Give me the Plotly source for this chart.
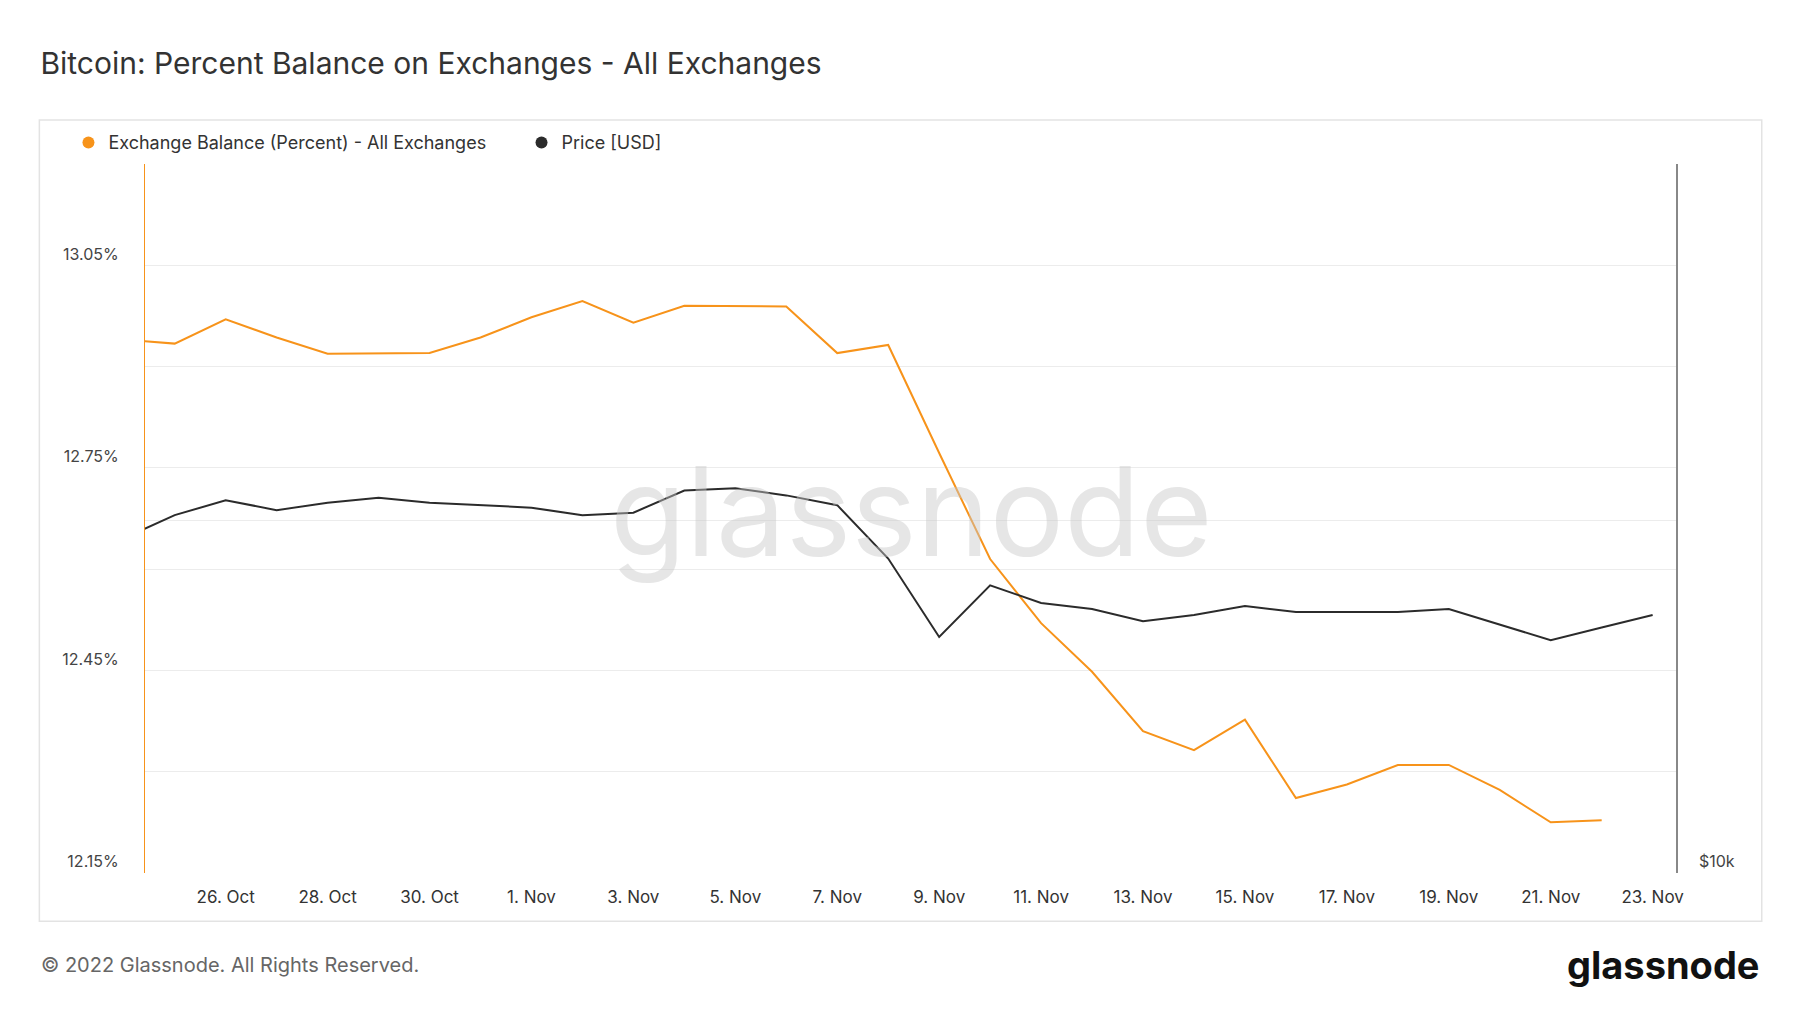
import pandas as pd
import plotly.graph_objects as go

dates = pd.date_range("2022-10-24", "2022-11-23", freq="D")

# percent of BTC supply held on exchanges (one value per day, last day missing)
balance_pct = [12.940, 12.934, 12.970, 12.943, 12.919, 12.919, 12.920, 12.943,
               12.973, 12.997, 12.965, 12.990, 12.990, 12.989, 12.920, 12.932,
               12.772, 12.615, 12.520, 12.448, 12.360, 12.332, 12.377, 12.261,
               12.281, 12.310, 12.310, 12.273, 12.225, 12.228, None]

price_usd = [19300, 20200, 20800, 20400, 20700, 20900, 20700, 20600, 20500,
             20200, 20300, 21200, 21300, 21000, 20600, 18550, 15900, 17600,
             17000, 16800, 16400, 16600, 16900, 16700, 16700, 16700, 16800,
             16300, 15800, 16200, 16600]

pct_ticks = [12.15, 12.30, 12.45, 12.60, 12.75, 12.90, 13.05]
pct_labels = ["12.15%", "", "12.45%", "", "12.75%", "", "13.05%"]

ORANGE = "#f7931a"
BLACK = "#2b2b2b"

fig = go.Figure()
fig.add_trace(go.Scatter(x=dates, y=balance_pct, mode="lines",
                         line=dict(color=ORANGE, width=2), showlegend=False))
fig.add_trace(go.Scatter(x=dates, y=price_usd, mode="lines", yaxis="y2",
                         line=dict(color=BLACK, width=2), showlegend=False))
# legend entries drawn as dots, like the original
fig.add_trace(go.Scatter(x=[None], y=[None], mode="markers",
                         marker=dict(color=ORANGE, size=12),
                         name="Exchange Balance (Percent) - All Exchanges      "))
fig.add_trace(go.Scatter(x=[None], y=[None], mode="markers",
                         marker=dict(color=BLACK, size=12), name="Price [USD]"))

fig.update_layout(
    width=1800, height=1013,
    paper_bgcolor="white", plot_bgcolor="white",
    margin=dict(l=137, r=132, t=156, b=148),
    font=dict(family="Inter, Noto Sans, sans-serif", color="#444"),
    title=dict(text="Bitcoin: Percent Balance on Exchanges - All Exchanges",
               x=0.018, xanchor="left", y=0.945, yanchor="middle",
               font=dict(size=30, color="#333")),
    showlegend=True,
    legend=dict(orientation="h", x=-0.05, y=1.03, xanchor="left", yanchor="middle",
                font=dict(size=18, color="#333"), itemwidth=30,
                bgcolor="rgba(0,0,0,0)"),
    xaxis=dict(range=["2022-10-24 10:00", "2022-11-23 11:00"],
               tick0="2022-10-26", dtick=2 * 86400000, tickformat="%-d. %b",
               showgrid=False, showline=False, ticks="", ticklabelstandoff=12,
               tickfont=dict(size=17, color="#333")),
    yaxis=dict(range=[12.15, 13.2], tickvals=pct_ticks, ticktext=pct_labels,
               showgrid=True, gridcolor="#ececec", zeroline=False,
               showline=True, linecolor=ORANGE, linewidth=1,
               ticklabelposition="outside top", ticklabelstandoff=22, ticks="",
               tickfont=dict(size=16, color="#444")),
    yaxis2=dict(overlaying="y", side="right", type="log",
                range=[4, 4.605], tickvals=[10000, 20000], ticktext=["$10k", ""],
                showgrid=True, gridcolor="#ececec", zeroline=False,
                showline=True, linecolor="#888", linewidth=1.5,
                ticklabelposition="outside top", ticklabelstandoff=18,
                ticks="", tickfont=dict(size=16, color="#444")),
)

# outer frame around the chart
fig.add_shape(type="rect", xref="paper", yref="paper",
              x0=-0.069, x1=1.056, y0=-0.068, y1=1.062,
              line=dict(color="#e3e3e3", width=1.5), layer="below")

fig.add_annotation(text="glassnode", xref="paper", yref="paper", x=0.5, y=0.51,
                   showarrow=False, font=dict(size=124, color="rgba(200,200,200,0.45)",
                                              family="Inter, sans-serif"))
fig.add_annotation(text="© 2022 Glassnode. All Rights Reserved.", xref="paper", yref="paper",
                   x=-0.069, y=-0.13, xanchor="left", yanchor="middle", showarrow=False,
                   font=dict(size=20, color="#666"))
fig.add_annotation(text="<b>glassnode</b>", xref="paper", yref="paper",
                   x=1.056, y=-0.13, xanchor="right", yanchor="middle", showarrow=False,
                   font=dict(size=38, color="#111"))

fig.write_html("out.html")
